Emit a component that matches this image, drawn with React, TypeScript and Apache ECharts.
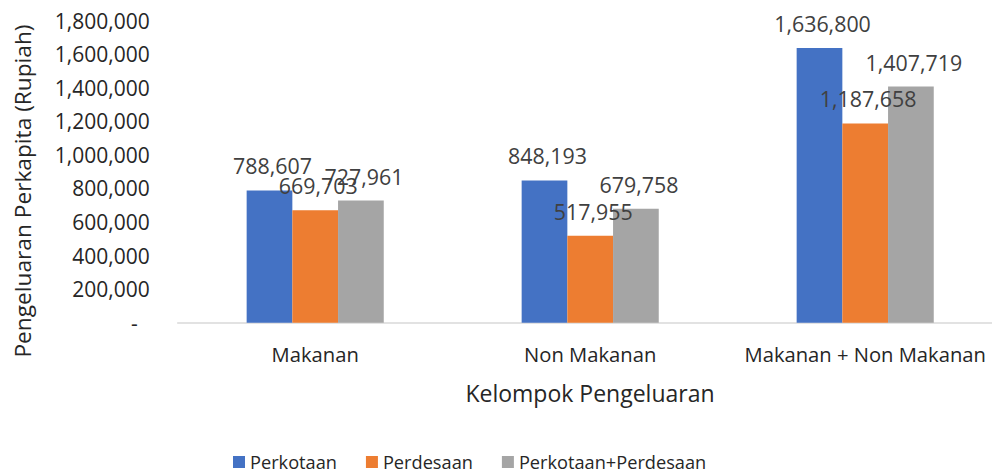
import React, { useEffect, useRef } from "react";
import * as echarts from "echarts";

const categories = ["Makanan", "Non Makanan", "Makanan + Non Makanan"];
const seriesNames = ["Perkotaan", "Perdesaan", "Perkotaan+Perdesaan"];
const perkotaan = [788607, 848193, 1636800];
const perdesaan = [669703, 517955, 1187658];
const gabungan = [727961, 679758, 1407719];
const colors = ["#4472C4", "#ED7D31", "#A5A5A5"];
const yAxisTitle = "Pengeluaran Perkapita (Rupiah)";
const xAxisTitle = "Kelompok Pengeluaran";

const FONT = "'Open Sans', sans-serif";
const fmt = (v: number) => v.toLocaleString("en-US");

export default function App() {
  const ref = useRef<HTMLDivElement>(null);
  useEffect(() => {
    if (!ref.current) return;
    const chart = echarts.init(ref.current, undefined, { renderer: "svg" });
    const values = [perkotaan, perdesaan, gabungan];
    chart.setOption({
      animation: false,
      backgroundColor: "#ffffff",
      textStyle: { fontFamily: FONT },
      grid: {
        left: 177.7,
        top: 20.7,
        width: 825,
        height: 302,
        containLabel: false,
        outerBoundsMode: "none",
      },
      legend: {
        top: 448,
        left: 228,
        itemWidth: 12,
        itemHeight: 12,
        itemGap: 29,
        icon: "rect",
        textStyle: { fontFamily: FONT, fontSize: 18.2, color: "#262626" },
        data: seriesNames,
      },
      xAxis: {
        type: "category",
        data: categories,
        axisLine: { lineStyle: { color: "#D9D9D9", width: 1.5 } },
        axisTick: { show: false },
        axisLabel: { fontFamily: FONT, fontSize: 20.2, color: "#262626", margin: 21, interval: 0 },
      },
      yAxis: {
        type: "value",
        min: 0,
        max: 1800000,
        interval: 200000,
        splitLine: { show: false },
        axisLine: { show: false },
        axisTick: { show: false },
        axisLabel: {
          fontFamily: FONT,
          fontSize: 21,
          color: "#262626",
          margin: 28,
          formatter: (v: number) => (v === 0 ? "{d|-}" : fmt(v)),
          rich: { d: { fontFamily: FONT, fontSize: 21, color: "#262626", padding: [0, 12, 0, 0] } },
        },
      },
      graphic: [
        {
          type: "text",
          x: 22,
          y: 191,
          rotation: Math.PI / 2,
          style: {
            text: yAxisTitle,
            fontFamily: FONT,
            fontSize: 22.7,
            fill: "#262626",
            align: "center",
            verticalAlign: "middle",
          },
        },
        {
          type: "text",
          x: 590,
          y: 393,
          style: {
            text: xAxisTitle,
            fontFamily: FONT,
            fontSize: 23,
            fill: "#262626",
            align: "center",
            verticalAlign: "middle",
          },
        },
      ],
      series: seriesNames.map((name, i) => ({
        name,
        type: "bar",
        data: values[i],
        barWidth: 45.7,
        barGap: "0%",
        itemStyle: { color: colors[i] },
        label: {
          show: true,
          position: "top",
          distance: 14,
          offset: [3, 0],
          fontFamily: FONT,
          fontSize: 21.4,
          color: "#404040",
          formatter: (p: any) => fmt(p.value),
        },
      })),
    });
    return () => chart.dispose();
  }, []);
  return (
    <div
      ref={ref}
      style={{ position: "fixed", left: 0, top: 0, width: 992, height: 475, background: "#fff" }}
    />
  );
}
